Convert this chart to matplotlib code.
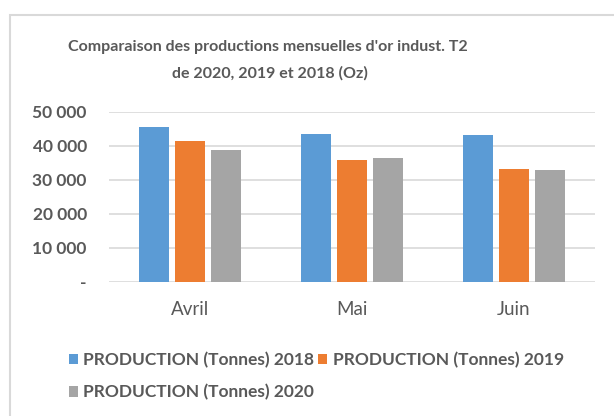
import numpy as np
import matplotlib.pyplot as plt
from matplotlib.patches import Rectangle

# donnees
mois = ['Avril', 'Mai', 'Juin']
prod_2018 = [45600, 43500, 43200]
prod_2019 = [41500, 35900, 33200]
prod_2020 = [38700, 36300, 32800]
yticks = [0, 10000, 20000, 30000, 40000, 50000]
ytick_labels = ['-', '10 000', '20 000', '30 000', '40 000', '50 000']

plt.rcParams['font.family'] = ['Lato', 'DejaVu Sans']
gris_txt = '#595959'

fig = plt.figure(figsize=(6.14, 4.16), dpi=100)
# cadre du graphique
fig.patches.append(Rectangle((10/614, -0.1), 1.2, 1 - 15/416 + 0.1, transform=fig.transFigure,
                             fill=False, edgecolor='#D9D9D9', linewidth=1.5))

ax = fig.add_axes([109/614, 1 - 281.7/416, (595 - 109)/614, (281.7 - 111.7)/416])

x = np.arange(len(mois))
w = 0.18
ax.bar(x - 0.222, prod_2018, w, color='#5B9BD5', label='PRODUCTION (Tonnes) 2018', zorder=2)
ax.bar(x, prod_2019, w, color='#ED7D31', label='PRODUCTION (Tonnes) 2019', zorder=2)
ax.bar(x + 0.222, prod_2020, w, color='#A5A5A5', label='PRODUCTION (Tonnes) 2020', zorder=2)

ax.set_xlim(-0.5, 2.5)
ax.set_ylim(0, 50000)
ax.set_yticks(yticks)
ax.set_yticklabels(ytick_labels, fontsize=12.5, fontweight='bold', color=gris_txt)
ax.set_xticks(x)
ax.set_xticklabels(mois, fontsize=13.5, color=gris_txt)
ax.tick_params(axis='both', length=0)
ax.tick_params(axis='y', pad=16)
ax.tick_params(axis='x', pad=14)
ax.grid(axis='y', color='#D9D9D9', linewidth=1.2, zorder=0)
for s in ax.spines.values():
    s.set_visible(False)

fig.text(268/614, 1 - 47/416, "Comparaison des productions mensuelles d'or indust. T2",
         ha='center', va='center', fontsize=11.5, fontweight='bold', color=gris_txt)
fig.text(270/614, 1 - 73/416, "de 2020, 2019 et 2018 (Oz)",
         ha='center', va='center', fontsize=11.5, fontweight='bold', color=gris_txt)

h, l = ax.get_legend_handles_labels()
order = [0, 2, 1]
leg = fig.legend([h[i] for i in order], [l[i] for i in order], ncol=2,
                 loc='upper left', bbox_to_anchor=(53/614, 1 - 336/416), frameon=False,
                 handlelength=0.55, handleheight=0.55, handletextpad=0.3, columnspacing=0.2,
                 labelspacing=0.95, prop={'size': 12.5, 'weight': 'bold'})
for t in leg.get_texts():
    t.set_color(gris_txt)

plt.savefig('out.png', dpi=100)
